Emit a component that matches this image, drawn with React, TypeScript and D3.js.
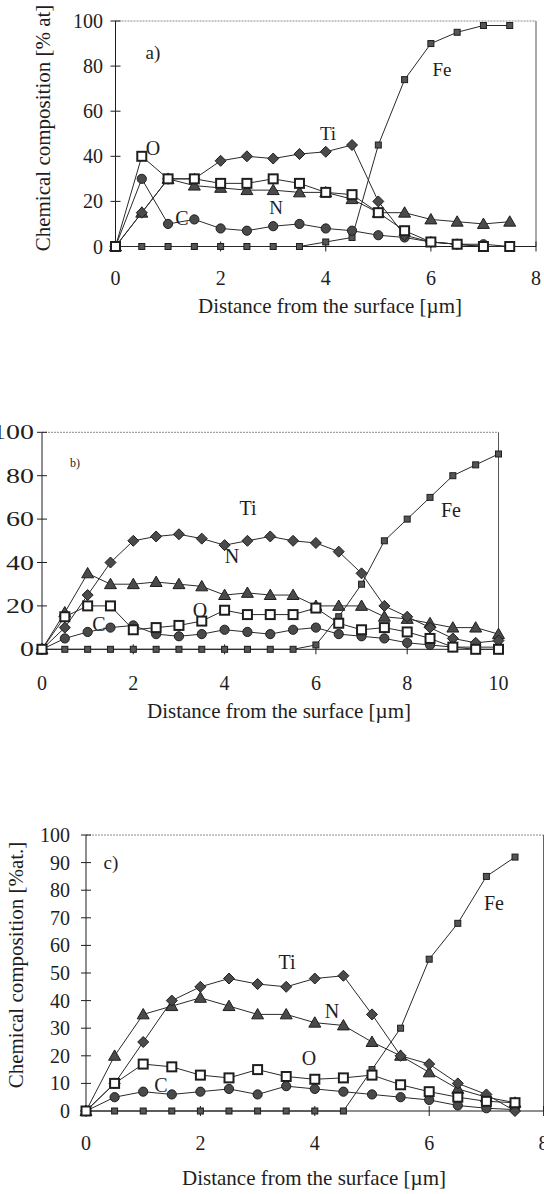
import React from 'react';
import * as d3 from 'd3';

// ---------- data ----------
const DIST_A = [0, 0.5, 1, 1.5, 2, 2.5, 3, 3.5, 4, 4.5, 5, 5.5, 6, 6.5, 7, 7.5];
const TI_A = [0, 15, 30, 30, 38, 40, 39, 41, 42, 45, 20, 5, 2, 1, 0, 0];
const N_A = [0, 15, 30, 27, 26, 25, 25, 24, 24, 21, 15, 15, 12, 11, 10, 11];
const O_A = [0, 40, 30, 30, 28, 28, 30, 28, 24, 23, 15, 7, 2, 1, 0, 0];
const C_A = [0, 30, 10, 12, 8, 7, 9, 10, 8, 7, 5, 4, 2, 1, 1, 0];
const FE_A = [0, 0, 0, 0, 0, 0, 0, 0, 2, 4, 45, 74, 90, 95, 98, 98];

const DIST_B = [0, 0.5, 1, 1.5, 2, 2.5, 3, 3.5, 4, 4.5, 5, 5.5, 6, 6.5, 7, 7.5, 8, 8.5, 9, 9.5, 10];
const TI_B = [0, 10, 25, 40, 50, 52, 53, 51, 48, 50, 52, 50, 49, 45, 35, 20, 15, 10, 5, 3, 4];
const N_B = [0, 17, 35, 30, 30, 31, 30, 29, 25, 26, 25, 25, 20, 20, 20, 15, 14, 12, 10, 10, 7];
const O_B = [0, 15, 20, 20, 9, 10, 11, 13, 18, 16, 16, 16, 19, 12, 9, 10, 8, 5, 1, 0, 0];
const C_B = [0, 5, 8, 10, 11, 7, 6, 7, 9, 8, 7, 9, 10, 7, 6, 5, 3, 2, 1, 1, 1];
const FE_B = [0, 0, 0, 0, 0, 0, 0, 0, 0, 0, 0, 0, 2, 15, 30, 50, 60, 70, 80, 85, 90];

const DIST_C = [0, 0.5, 1, 1.5, 2, 2.5, 3, 3.5, 4, 4.5, 5, 5.5, 6, 6.5, 7, 7.5];
const TI_C = [0, 10, 25, 40, 45, 48, 46, 45, 48, 49, 35, 20, 17, 10, 6, 0];
const N_C = [0, 20, 35, 38, 41, 38, 35, 35, 32, 31, 25, 20, 14, 8, 5, 3];
const O_C = [0, 10, 17, 16, 13, 12, 15, 12.5, 11.5, 12, 13, 9.5, 7, 5, 3.5, 3];
const C_C = [0, 5, 7, 6, 7, 8, 6, 9, 8, 7, 6, 5, 4, 2, 1, 0.5];
const FE_C = [0, 0, 0, 0, 0, 0, 0, 0, 0, 0, 15, 30, 55, 68, 85, 92];

const Y_TICKS_20 = [0, 20, 40, 60, 80, 100];
const Y_TICKS_10 = [0, 10, 20, 30, 40, 50, 60, 70, 80, 90, 100];
const X_TICKS_8 = [0, 2, 4, 6, 8];
const X_TICKS_10 = [0, 2, 4, 6, 8, 10];

const X_TITLE = 'Distance from the surface [\u00b5m]';

// ---------- styling ----------
const FONT = '"Liberation Serif", "Times New Roman", serif';
const INK = '#1e1e1e';
const MARK_FILL = '#4a4a4a';

type Shape = 'diamond' | 'triangle' | 'square' | 'circle' | 'fe';

function Marker({ shape, x, y }: { shape: Shape; x: number; y: number }) {
  if (shape === 'diamond') {
    const r = 5.5;
    return (
      <path
        d={`M${x},${y - r}L${x + r},${y}L${x},${y + r}L${x - r},${y}Z`}
        fill={MARK_FILL}
        stroke={INK}
        strokeWidth={1}
      />
    );
  }
  if (shape === 'triangle') {
    const p = d3.symbol().type(d3.symbolTriangle).size(62)() as string;
    return <path d={p} transform={`translate(${x},${y + 1})`} fill={MARK_FILL} stroke={INK} strokeWidth={1} />;
  }
  if (shape === 'square') {
    return <rect x={x - 4.5} y={y - 4.5} width={9} height={9} fill="#fff" stroke={INK} strokeWidth={2} />;
  }
  if (shape === 'circle') {
    return <circle cx={x} cy={y} r={4.6} fill={MARK_FILL} stroke={INK} strokeWidth={1} />;
  }
  return <rect x={x - 3} y={y - 3} width={6} height={6} fill="#555" stroke={INK} strokeWidth={1} />;
}

type SeriesDef = { name: string; values: number[]; shape: Shape };
type Label = { text: string; x: number; y: number; size: number };

type PanelCfg = {
  xs: number[];
  series: SeriesDef[];
  xDomain: [number, number];
  xRange: [number, number];
  yRange: [number, number];
  yTicks: number[];
  xTicks: number[];
  yLabelEnd: number;
  yLabelScaleX: number;
  xLabelBaseline: number;
  xTitle: { x: number; y: number; size: number };
  yTitle?: { text: string; x: number; y: number; size: number };
  labels: Label[];
};

function Panel({ cfg }: { cfg: PanelCfg }) {
  const x = d3.scaleLinear().domain(cfg.xDomain).range(cfg.xRange);
  const y = d3.scaleLinear().domain([0, 100]).range(cfg.yRange);
  const line = d3
    .line<[number, number]>()
    .x((d) => x(d[0]))
    .y((d) => y(d[1]));
  const [x0, x1] = cfg.xRange;
  const [y0, y1] = cfg.yRange;
  return (
    <g fontFamily={FONT} fill={INK}>
      {/* frame */}
      <line x1={x0} y1={y1} x2={x1} y2={y1} stroke="#8a8a8a" strokeWidth={1} strokeDasharray="2,1" />
      <line x1={x1} y1={y1} x2={x1} y2={y0} stroke="#555" strokeWidth={1} />
      {/* axes */}
      <line x1={x0} y1={y0} x2={x1} y2={y0} stroke={INK} strokeWidth={1} />
      <line x1={x0} y1={y0} x2={x0} y2={y1} stroke={INK} strokeWidth={1} />
      {cfg.yTicks.map((t) => (
        <g key={'yt' + t}>
          <line x1={x0 - 5} x2={x0 + 5} y1={y(t)} y2={y(t)} stroke={INK} strokeWidth={1} />
          <text
            transform={`translate(${cfg.yLabelEnd},${y(t)}) scale(${cfg.yLabelScaleX},1)`}
            textAnchor="end"
            dy="0.35em"
            fontSize={20}
          >
            {t}
          </text>
        </g>
      ))}
      {cfg.xTicks.map((t) => (
        <g key={'xt' + t}>
          <line x1={x(t)} x2={x(t)} y1={y0 - 5} y2={y0 + 5} stroke={INK} strokeWidth={1} />
          <text x={x(t)} y={cfg.xLabelBaseline} textAnchor="middle" fontSize={20}>
            {t}
          </text>
        </g>
      ))}
      <text x={cfg.xTitle.x} y={cfg.xTitle.y} textAnchor="middle" fontSize={cfg.xTitle.size}>
        {X_TITLE}
      </text>
      {cfg.yTitle && (
        <text
          transform={`translate(${cfg.yTitle.x},${cfg.yTitle.y}) rotate(-90)`}
          textAnchor="middle"
          dy="0.35em"
          fontSize={cfg.yTitle.size}
        >
          {cfg.yTitle.text}
        </text>
      )}
      {/* lines */}
      {cfg.series.map((s) => (
        <path
          key={'l' + s.name}
          d={line(cfg.xs.map((d, i) => [d, s.values[i]] as [number, number])) as string}
          fill="none"
          stroke="#2a2a2a"
          strokeWidth={1}
        />
      ))}
      {/* markers */}
      {cfg.series.map((s) => (
        <g key={'m' + s.name}>
          {cfg.xs.map((d, i) => (
            <Marker key={i} shape={s.shape} x={x(d)} y={y(s.values[i])} />
          ))}
        </g>
      ))}
      {cfg.labels.map((l) => (
        <text key={l.text} x={l.x} y={l.y} textAnchor="middle" dy="0.35em" fontSize={l.size}>
          {l.text}
        </text>
      ))}
    </g>
  );
}

const PANEL_A: PanelCfg = {
  xs: DIST_A,
  series: [
    { name: 'Fe', values: FE_A, shape: 'fe' },
    { name: 'C', values: C_A, shape: 'circle' },
    { name: 'N', values: N_A, shape: 'triangle' },
    { name: 'Ti', values: TI_A, shape: 'diamond' },
    { name: 'O', values: O_A, shape: 'square' },
  ],
  xDomain: [0, 8],
  xRange: [115.5, 536],
  yRange: [246.5, 21],
  yTicks: Y_TICKS_20,
  xTicks: X_TICKS_8,
  yLabelEnd: 103,
  yLabelScaleX: 1,
  xLabelBaseline: 285,
  xTitle: { x: 330, y: 313, size: 21 },
  yTitle: { text: 'Chemical composition [% at]', x: 43, y: 128, size: 21 },
  labels: [
    { text: 'a)', x: 153, y: 52, size: 19 },
    { text: 'O', x: 153, y: 148, size: 20 },
    { text: 'C', x: 182, y: 218, size: 20 },
    { text: 'Ti', x: 328, y: 133, size: 19 },
    { text: 'N', x: 276, y: 207, size: 19 },
    { text: 'Fe', x: 442, y: 69, size: 19 },
  ],
};

const PANEL_B: PanelCfg = {
  xs: DIST_B,
  series: [
    { name: 'Fe', values: FE_B, shape: 'fe' },
    { name: 'C', values: C_B, shape: 'circle' },
    { name: 'N', values: N_B, shape: 'triangle' },
    { name: 'Ti', values: TI_B, shape: 'diamond' },
    { name: 'O', values: O_B, shape: 'square' },
  ],
  xDomain: [0, 10],
  xRange: [42, 498.5],
  yRange: [649.3, 432.3],
  yTicks: Y_TICKS_20,
  xTicks: X_TICKS_10,
  yLabelEnd: 34,
  yLabelScaleX: 1.4,
  xLabelBaseline: 690,
  xTitle: { x: 279, y: 718, size: 21 },
  labels: [
    { text: 'b)', x: 75, y: 463, size: 12 },
    { text: 'Ti', x: 248, y: 508, size: 20 },
    { text: 'N', x: 232, y: 556, size: 20 },
    { text: 'O', x: 200, y: 610, size: 20 },
    { text: 'C', x: 99, y: 624, size: 20 },
    { text: 'Fe', x: 451, y: 510, size: 20 },
  ],
};

const PANEL_C: PanelCfg = {
  xs: DIST_C,
  series: [
    { name: 'Fe', values: FE_C, shape: 'fe' },
    { name: 'C', values: C_C, shape: 'circle' },
    { name: 'N', values: N_C, shape: 'triangle' },
    { name: 'Ti', values: TI_C, shape: 'diamond' },
    { name: 'O', values: O_C, shape: 'square' },
  ],
  xDomain: [0, 8],
  xRange: [86, 543.6],
  yRange: [1111, 835],
  yTicks: Y_TICKS_10,
  xTicks: X_TICKS_8,
  yLabelEnd: 70,
  yLabelScaleX: 1,
  xLabelBaseline: 1150,
  xTitle: { x: 314, y: 1185, size: 21 },
  yTitle: { text: 'Chemical composition [%at.]', x: 16, y: 965, size: 21 },
  labels: [
    { text: 'c)', x: 111, y: 862, size: 19 },
    { text: 'Ti', x: 287, y: 962, size: 20 },
    { text: 'N', x: 332, y: 1011, size: 20 },
    { text: 'O', x: 309, y: 1058, size: 20 },
    { text: 'C', x: 161, y: 1085, size: 20 },
    { text: 'Fe', x: 494, y: 903, size: 20 },
  ],
};

export default function App() {
  return (
    <svg
      width={544}
      height={1194}
      viewBox="0 0 544 1194"
      style={{ position: 'absolute', left: 0, top: 0, background: '#fff' }}
    >
      <rect width={544} height={1194} fill="#fff" />
      <Panel cfg={PANEL_A} />
      <Panel cfg={PANEL_B} />
      <Panel cfg={PANEL_C} />
    </svg>
  );
}
